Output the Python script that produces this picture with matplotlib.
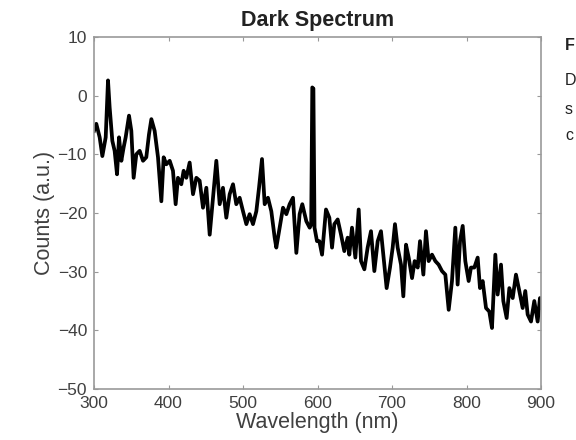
"""Dark spectrum plot: detector counts vs wavelength."""

import matplotlib
matplotlib.use("Agg")  # Non-interactive backend
import matplotlib.pyplot as plt

# Dark spectrum samples (nm, a.u.)
wavelength = [
    300.0, 303.1, 307.6, 311.2, 315.7, 318.8, 321.0, 324.6, 327.7, 330.9,
    333.6, 336.7, 339.8, 342.5, 347.0, 350.1, 353.2, 356.8, 361.3, 365.8,
    370.2, 373.8, 377.0, 381.4, 385.9, 390.4, 393.5, 397.1, 401.6, 406.0,
    409.6, 412.7, 417.2, 420.3, 423.9, 428.4, 432.9, 437.4, 441.8, 446.3,
    450.8, 455.3, 459.7, 464.2, 468.7, 473.1, 477.6, 482.1, 486.6, 491.0,
    495.5, 500.0, 504.5, 508.9, 513.4, 517.9, 521.5, 525.5, 529.1, 533.5,
    538.0, 542.5, 544.7, 549.2, 553.7, 558.2, 562.6, 567.1, 571.6, 576.0,
    579.6, 585.0, 589.5, 591.5, 593.0, 594.5, 596.0, 599.3, 602.5, 606.1,
    611.4, 615.9, 619.5, 622.6, 627.1, 631.6, 636.0, 640.5, 642.7, 646.3,
    650.8, 655.3, 658.4, 662.9, 667.3, 671.8, 676.3, 680.8, 685.2, 689.7,
    692.8, 697.3, 700.9, 704.0, 707.6, 712.1, 715.2, 718.8, 722.4, 726.9,
    730.4, 734.5, 737.6, 742.1, 745.6, 749.2, 753.7, 758.2, 762.6, 767.1,
    771.6, 776.1, 780.5, 785.0, 788.1, 791.3, 794.9, 798.4, 802.9, 806.0,
    810.5, 815.0, 818.1, 821.7, 826.2, 830.6, 834.2, 838.7, 841.8, 846.3,
    849.4, 853.9, 857.5, 862.0, 866.4, 870.9, 875.4, 878.9, 882.1, 886.6,
    891.0, 895.5, 898.6, 900.0,
]
counts = [
    -6.0, -4.8, -7.1, -10.3, -7.1, 2.6, -2.0, -7.7, -9.4, -13.4,
    -7.1, -11.1, -8.8, -7.1, -3.4, -6.0, -14.0, -10.0, -9.4, -11.1,
    -10.5, -6.6, -4.0, -6.0, -10.5, -18.0, -10.5, -11.7, -11.1, -12.8,
    -18.5, -14.0, -15.1, -12.8, -14.0, -11.4, -16.8, -14.0, -14.5, -19.1,
    -15.7, -23.7, -17.4, -11.1, -18.5, -15.7, -20.8, -16.8, -15.1, -18.5,
    -17.4, -19.7, -21.9, -20.2, -21.9, -19.7, -15.7, -10.8, -18.5, -17.4,
    -19.7, -24.2, -25.9, -22.5, -19.1, -20.2, -18.5, -17.4, -26.8, -20.2,
    -18.5, -21.4, -22.5, -22.0, 1.4, 1.2, -22.5, -24.8, -24.8, -27.1,
    -19.4, -20.8, -25.9, -21.9, -21.1, -23.7, -26.5, -24.2, -27.1, -22.5,
    -27.6, -19.4, -28.2, -29.6, -25.9, -23.1, -29.9, -24.8, -23.1, -28.8,
    -32.8, -29.3, -25.9, -21.9, -25.9, -28.8, -34.2, -25.4, -27.6, -31.1,
    -28.2, -29.3, -24.8, -30.5, -23.1, -28.2, -27.1, -28.2, -28.8, -29.9,
    -30.5, -36.5, -31.6, -22.5, -32.2, -24.8, -22.2, -28.2, -31.6, -29.3,
    -29.3, -27.6, -32.8, -31.6, -36.2, -36.8, -39.6, -27.1, -33.9, -28.8,
    -35.0, -37.9, -32.8, -34.5, -30.5, -33.3, -36.2, -33.3, -37.3, -38.5,
    -35.0, -38.5, -34.5, -36.2,
]

x_ticks = [300, 400, 500, 600, 700, 800, 900]
y_ticks = [-50, -40, -30, -20, -10, 0, 10]

# Start of the caption block beside the plot
caption_lines = [("F", "bold", 45), ("D", "normal", 80),
                 ("s", "normal", 110), ("c", "normal", 135)]

AXIS_GRAY = "#999999"
TEXT_GRAY = "#404040"

plt.rcParams.update({
    "font.family": ["Liberation Sans", "DejaVu Sans"],
    "axes.edgecolor": AXIS_GRAY,
    "axes.linewidth": 1.2,
    "xtick.color": AXIS_GRAY,
    "ytick.color": AXIS_GRAY,
    "xtick.labelcolor": TEXT_GRAY,
    "ytick.labelcolor": TEXT_GRAY,
    "xtick.direction": "in",
    "ytick.direction": "in",
    "xtick.top": True,
    "ytick.right": True,
    "xtick.major.size": 3,
    "ytick.major.size": 3,
    "xtick.labelsize": 12.5,
    "ytick.labelsize": 12.5,
})

fig = plt.figure(figsize=(5.76, 4.4), dpi=100)
ax = fig.add_axes([94 / 576, 1 - 389 / 440, 447 / 576, 352 / 440])

ax.plot(wavelength, counts, color="black", linewidth=2.7,
        solid_joinstyle="round")

ax.set_xlim(300, 900)
ax.set_ylim(-50, 10)
ax.set_xticks(x_ticks)
ax.set_yticks(y_ticks)
ax.tick_params(axis="x", pad=5)
ax.tick_params(axis="y", pad=5)

ax.set_title("Dark Spectrum", fontsize=15.5, fontweight="bold",
             color="#222222", pad=8)
ax.set_xlabel("Wavelength (nm)", fontsize=15.5, color=TEXT_GRAY, labelpad=1)
ax.set_ylabel("Counts (a.u.)", fontsize=15.5, color=TEXT_GRAY, labelpad=2)

for text, weight, ypix in caption_lines:
    fig.text(565 / 576, 1 - ypix / 440, text, fontsize=11.5,
             fontweight=weight, color="#222222", va="center", ha="left")

fig.savefig("out.png", dpi=100)
plt.close(fig)
